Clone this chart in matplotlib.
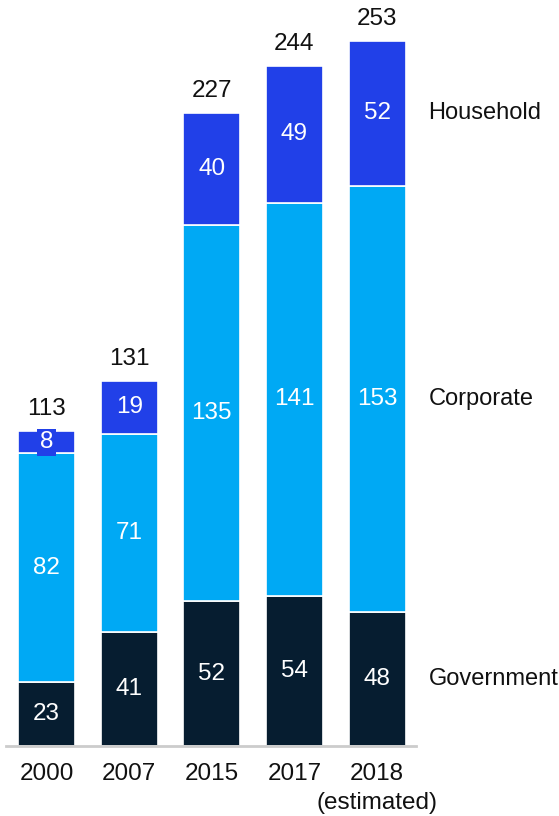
import matplotlib.pyplot as plt
import numpy as np

plt.rcParams['font.family'] = ['Liberation Sans', 'DejaVu Sans']

years = ['2000', '2007', '2015', '2017', '2018\n(estimated)']
government = [23, 41, 52, 54, 48]
corporate = [82, 71, 135, 141, 153]
household = [8, 19, 40, 49, 52]
totals = [113, 131, 227, 244, 253]
series_names = ['Government', 'Corporate', 'Household']

colors = ['#061d30', '#00a9f4', '#2140e8']

fig = plt.figure(figsize=(5.59, 8.16), dpi=100)
# axes placed in pixels: baseline at y=746, top at y=20, x from 6 to 416
ax = fig.add_axes([6 / 559, 70 / 816, 410 / 559, 726 / 816])

x = np.arange(len(years))
width = 0.69
bottom = np.zeros(len(years))
for vals, col in zip([government, corporate, household], colors):
    vals = np.array(vals, dtype=float)
    ax.bar(x, vals, width, bottom=bottom, color=col,
           edgecolor='white', linewidth=1.2)
    for xi, b, v in zip(x, bottom, vals):
        box = None
        if v < 12:
            # small segment: label sits on a box of the segment colour
            box = dict(boxstyle='square,pad=0.1', fc=col, ec='none')
        ax.text(xi, b + v / 2, f'{v:.0f}', ha='center', va='center',
                color='white', fontsize=17.5, bbox=box)
    bottom += vals

for xi, t in zip(x, totals):
    ax.annotate(str(t), (xi, t), xytext=(0, 8), textcoords='offset points',
                ha='center', va='bottom', fontsize=17.5, color='#111111')

# series labels next to the last bar
last = len(years) - 1
seg_bottom = 0
for name, vals in zip(series_names, [government, corporate, household]):
    ax.text(last + 0.62, seg_bottom + vals[last] / 2, name, ha='left',
            va='center', fontsize=17, color='#111111', clip_on=False)
    seg_bottom += vals[last]

ax.set_xlim(-0.49, 4.47)
ax.set_ylim(0, 260.5)
ax.set_xticks(x)
ax.set_xticklabels(years, fontsize=17.5, color='#111111', linespacing=1.45)
ax.tick_params(axis='x', length=0, pad=12)
ax.set_yticks([])
for s in ['top', 'right', 'left']:
    ax.spines[s].set_visible(False)
ax.spines['bottom'].set_color('#cccccc')
ax.spines['bottom'].set_linewidth(2)

fig.savefig('out.png', dpi=100)
